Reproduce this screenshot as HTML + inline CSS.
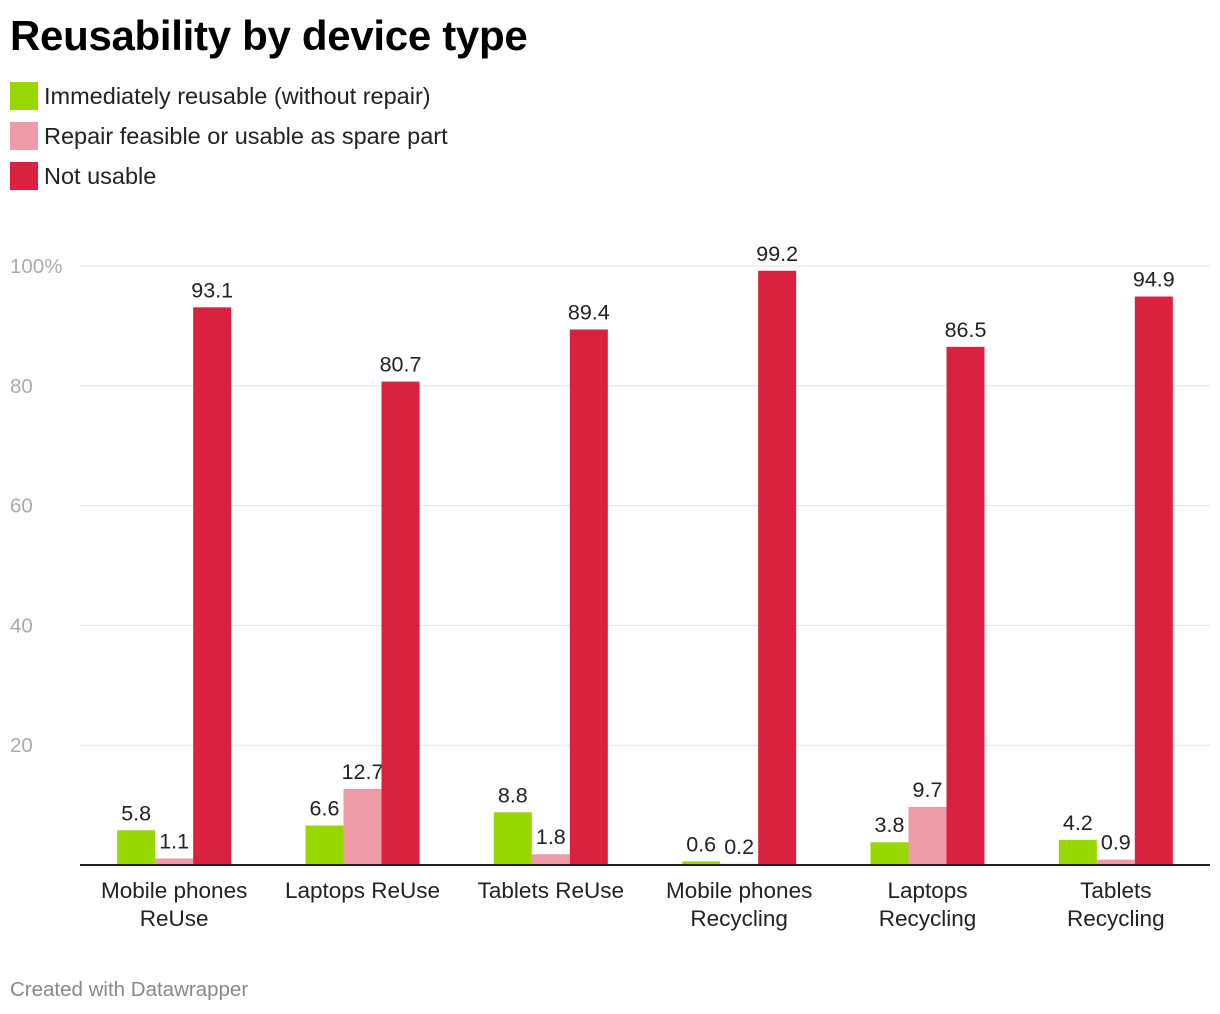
<!DOCTYPE html>
<html><head><meta charset="utf-8"><style>
body{margin:0;background:#fff;font-family:"Liberation Sans",Arial,sans-serif;}
#wrap{position:relative;width:1220px;height:1014px;overflow:hidden}
h1{position:absolute;left:10px;top:12px;margin:0;font-size:42px;font-weight:bold;color:#000;letter-spacing:-0.3px}
.leg{position:absolute;left:10px;height:28px;font-size:23.5px;color:#222;line-height:28px}
.leg span{display:inline-block;width:28px;height:28px;vertical-align:top;margin-right:6px}
#foot{position:absolute;left:10px;top:978px;font-size:20.5px;color:#888}
</style></head><body>
<div id="wrap">
<h1>Reusability by device type</h1>
<div class="leg" style="top:82px"><span style="background:#98d800"></span>Immediately reusable (without repair)</div>
<div class="leg" style="top:122px"><span style="background:#ee9ba7"></span>Repair feasible or usable as spare part</div>
<div class="leg" style="top:162px"><span style="background:#da2140"></span>Not usable</div>
<svg id="svg" width="1220" height="1014" style="position:absolute;left:0;top:0"></svg>
<div id="foot">Created with Datawrapper</div>
</div>
<script>
const categories=[["Mobile phones","ReUse"],["Laptops ReUse"],["Tablets ReUse"],["Mobile phones","Recycling"],["Laptops","Recycling"],["Tablets","Recycling"]];
const immediate=[5.8,6.6,8.8,0.6,3.8,4.2];
const repair=[1.1,12.7,1.8,0.2,9.7,0.9];
const notUsable=[93.1,80.7,89.4,99.2,86.5,94.9];
const ticks=[0,20,40,60,80,100];
const tickLabels=["","20","40","60","80","100%"];
const colors=["#98d800","#ee9ba7","#da2140"];
const series=[immediate,repair,notUsable];
const names=["immediate","repair","not-usable"];
const svg=document.getElementById('svg');const NS="http://www.w3.org/2000/svg";
const x0=80,x1=1210,y0=865,y100=266;
const y=v=>y0-(v/100)*(y0-y100);
const gw=(x1-x0)/categories.length, bw=38;
function mk(t,a){const e=document.createElementNS(NS,t);for(const k in a)e.setAttribute(k,a[k]);svg.appendChild(e);return e;}
ticks.forEach((t,i)=>{
 if(t>0){const l=mk('line',{x1:x0,x2:x1,y1:y(t),y2:y(t),stroke:'#e3e3e3','stroke-width':1});
 
 }
 if(tickLabels[i]){const tx=mk('text',{x:10,y:y(t)+7,'font-size':20.5,fill:'#aaa'});tx.textContent=tickLabels[i];
 
 }
});
categories.forEach((c,i)=>{
 const cx=x0+gw*(i+0.5);
 series.forEach((s,j)=>{
  const bx=cx-bw*1.5+j*bw;const v=s[i];
  const r=mk('rect',{x:bx,y:y(v),width:bw,height:y0-y(v),fill:colors[j]});
  
  
  const t=mk('text',{x:bx+bw/2,y:y(v)-10,'font-size':21.5,fill:'#222','text-anchor':'middle'});t.textContent=v;
  
  
 });
 c.forEach((line,k)=>{const t=mk('text',{x:cx,y:898+k*28,'font-size':22.5,fill:'#222','text-anchor':'middle'});t.textContent=line;
  
  });
});
const base=mk('line',{x1:x0,x2:x1,y1:y0,y2:y0,stroke:'#222','stroke-width':2});


</script>
</body></html>
